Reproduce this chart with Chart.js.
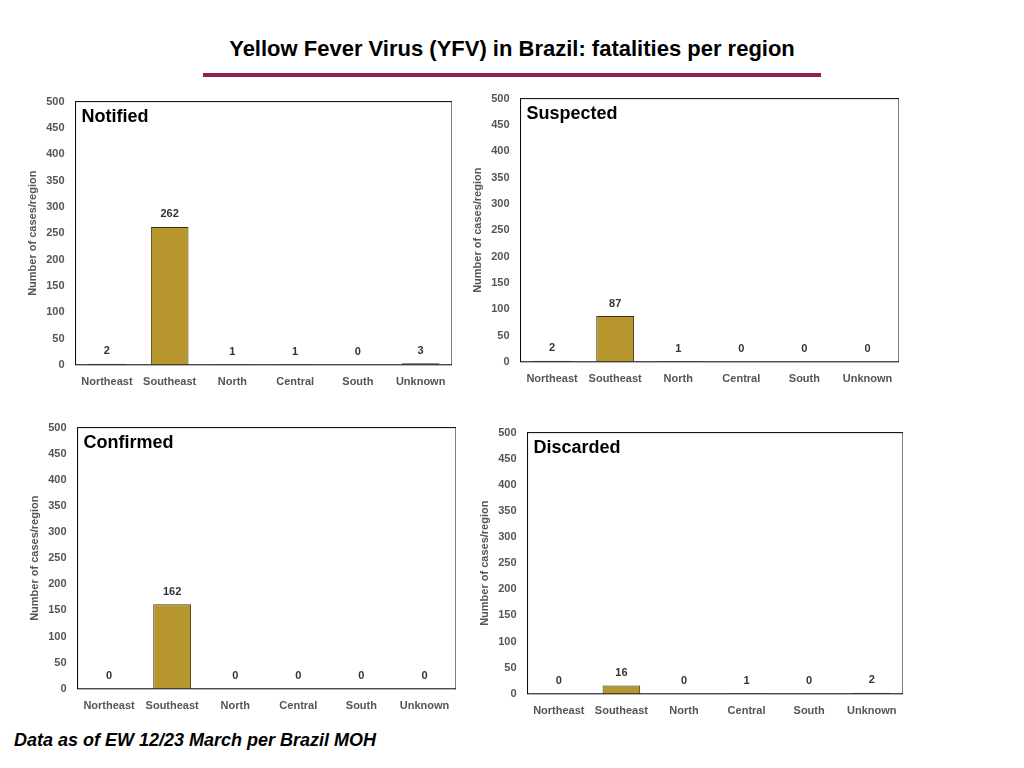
<!DOCTYPE html>
<html><head><meta charset="utf-8">
<script src="https://cdn.jsdelivr.net/npm/chart.js@4.4.0/dist/chart.umd.min.js"></script>
<style>
body{margin:0;width:1024px;height:768px;background:#fff;position:relative;font-family:"Liberation Sans",Arial,sans-serif;overflow:hidden}
#title{position:absolute;top:36px;left:0;width:1024px;text-align:center;font-weight:bold;font-size:22px;color:#000}
#line{position:absolute;top:73px;left:203px;width:618px;height:4px;background:#8B2252}
.box{position:absolute}
#note{position:absolute;left:14px;top:730px;font-style:italic;font-weight:bold;font-size:18px}
</style></head><body>
<div id="title">Yellow Fever Virus (YFV) in Brazil: fatalities per region</div>
<div id="line"></div>
<div class="box" style="left:22px;top:92px;width:430px;height:300px"><canvas id="c1"></canvas></div>
<div class="box" style="left:467px;top:89px;width:432px;height:300px"><canvas id="c2"></canvas></div>
<div class="box" style="left:24px;top:418px;width:432px;height:298px"><canvas id="c3"></canvas></div>
<div class="box" style="left:474px;top:423px;width:429px;height:298px"><canvas id="c4"></canvas></div>
<div id="note">Data as of EW 12/23 March per Brazil MOH</div>
<script>
const regions = ['Northeast', 'Southeast', 'North', 'Central', 'South', 'Unknown'];
const notified = [2, 262, 1, 1, 0, 3];
const suspected = [2, 87, 1, 0, 0, 0];
const confirmed = [0, 162, 0, 0, 0, 0];
const discarded = [0, 16, 0, 1, 0, 2];

const extras = {
    id: 'extras',
    afterDatasetsDraw(chart, args, opts) {
        const ctx = chart.ctx, a = chart.chartArea;
        ctx.save();
        ctx.strokeStyle = '#000';
        ctx.lineWidth = 1;
        ctx.strokeRect(a.left, a.top, a.right - a.left, a.bottom - a.top);
        ctx.fillStyle = '#000';
        ctx.font = 'bold 18px "Liberation Sans", Arial';
        ctx.textAlign = 'left';
        ctx.textBaseline = 'top';
        ctx.fillText(opts.panel, a.left + 6, a.top + 6);
        ctx.font = 'bold 11px "Liberation Sans", Arial';
        ctx.fillStyle = '#333';
        ctx.textAlign = 'center';
        ctx.textBaseline = 'bottom';
        chart.getDatasetMeta(0).data.forEach((bar, i) => {
            ctx.fillText(chart.data.datasets[0].data[i], bar.x, bar.y - 7);
        });
        ctx.restore();
    }
};

function makeChart(id, panel, values)
{
    new Chart(document.getElementById(id), {
        type: 'bar',
        data: {
            labels: regions,
            datasets: [{
                data: values,
                backgroundColor: '#B8962E',
                borderColor: '#3a3010',
                borderWidth: 1,
                barPercentage: 0.6,
                categoryPercentage: 1.0
            }]
        },
        options: {
            animation: false,
            maintainAspectRatio: false,
            responsive: true,
            plugins: { legend: { display: false }, tooltip: { enabled: false }, extras: { panel: panel } },
            scales: {
                x: {
                    grid: { display: false },
                    border: { display: false },
                    ticks: { color: '#555', font: { size: 11, weight: 'bold', family: '"Liberation Sans", Arial' }, maxRotation: 0, autoSkip: false }
                },
                y: {
                    min: 0, max: 500,
                    grid: { display: false },
                    border: { display: false },
                    ticks: { stepSize: 50, color: '#555', font: { size: 11, weight: 'bold', family: '"Liberation Sans", Arial' } },
                    title: { display: true, text: 'Number of cases/region', color: '#555', font: { size: 11, weight: 'bold', family: '"Liberation Sans", Arial' } }
                }
            }
        },
        plugins: [extras]
    });
}

makeChart('c1', 'Notified', notified);
makeChart('c2', 'Suspected', suspected);
makeChart('c3', 'Confirmed', confirmed);
makeChart('c4', 'Discarded', discarded);
</script>
</body></html>
